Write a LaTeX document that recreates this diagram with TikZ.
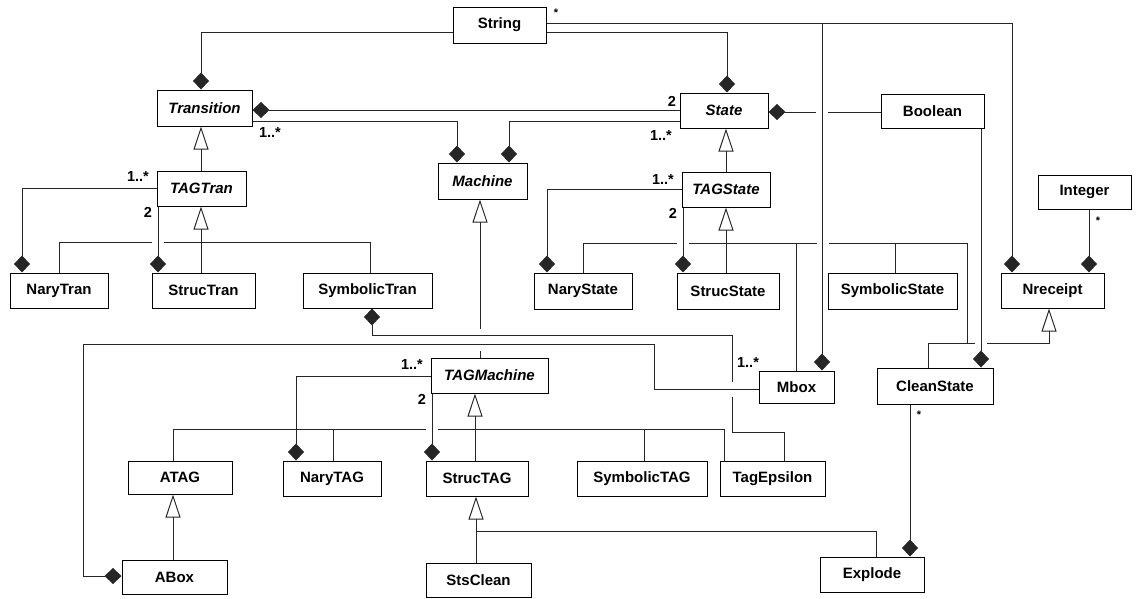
\documentclass[tikz,border=0pt]{standalone}
\usepackage{fontspec}
\setmainfont{Liberation Sans}
\usetikzlibrary{arrows.meta}
\begin{document}
\begin{tikzpicture}[x=1pt,y=-1pt,
  cls/.style={draw, line width=1pt, fill=white, inner sep=0pt, font=\fontsize{15}{18}\selectfont\bfseries},
  abs/.style={cls, font=\fontsize{15}{18}\selectfont\bfseries\itshape},
  ln/.style={line width=1pt, draw=black!85},
  comp/.style={ln, -{Diamond[length=17pt,width=16pt]}},
  gen/.style={ln, -{Triangle[open,length=23pt,width=15pt]}},
  mult/.style={font=\fontsize{14.5}{17}\selectfont\bfseries, inner sep=0pt},
  star/.style={font=\fontsize{11}{13}\selectfont\bfseries, inner sep=0pt}]
\useasboundingbox (0,0) rectangle (1138,598);

% ---- classes ----
\node[cls, minimum width=93pt, minimum height=36pt] (String) at (499.5,25) {String};
\node[abs, minimum width=95pt, minimum height=36pt] (Transition) at (204.5,108) {Transition};
\node[abs, minimum width=88pt, minimum height=35pt] (State) at (724,110.5) {State};
\node[cls, minimum width=103pt, minimum height=34pt] (Boolean) at (932.5,111) {Boolean};
\node[abs, minimum width=89pt, minimum height=36pt] (Machine) at (482.5,181) {Machine};
\node[abs, minimum width=89pt, minimum height=35pt] (TAGTran) at (201.5,188.5) {TAGTran};
\node[abs, minimum width=88pt, minimum height=35pt] (TAGState) at (726,189.5) {TAGState};
\node[cls, minimum width=93pt, minimum height=34pt] (Integer) at (1084.5,192) {Integer};
\node[cls, minimum width=98pt, minimum height=35pt] (NaryTran) at (59,290.5) {NaryTran};
\node[cls, minimum width=103pt, minimum height=35pt] (StrucTran) at (203.5,290.5) {StrucTran};
\node[cls, minimum width=129pt, minimum height=35pt] (SymbolicTran) at (367.5,290.5) {SymbolicTran};
\node[cls, minimum width=98pt, minimum height=36pt] (NaryState) at (583,291) {NaryState};
\node[cls, minimum width=102pt, minimum height=36pt] (StrucState) at (728,291) {StrucState};
\node[cls, minimum width=129pt, minimum height=36pt] (SymbolicState) at (892.5,291) {SymbolicState};
\node[cls, minimum width=103pt, minimum height=35pt] (Nreceipt) at (1052.5,290.5) {Nreceipt};
\node[abs, minimum width=117pt, minimum height=35pt] (TAGMachine) at (489.5,375.5) {TAGMachine};
\node[cls, minimum width=75pt, minimum height=32pt] (Mbox) at (796.5,387) {Mbox};
\node[cls, minimum width=116pt, minimum height=36pt] (CleanState) at (935,386) {CleanState};
\node[cls, minimum width=104pt, minimum height=33pt] (ATAG) at (180,477.5) {ATAG};
\node[cls, minimum width=98pt, minimum height=35pt] (NaryTAG) at (332,478.5) {NaryTAG};
\node[cls, minimum width=102pt, minimum height=35pt] (StrucTAG) at (477,478.5) {StrucTAG};
\node[cls, minimum width=130pt, minimum height=35pt] (SymbolicTAG) at (642,478.5) {SymbolicTAG};
\node[cls, minimum width=105pt, minimum height=35pt] (TagEpsilon) at (772.5,478.5) {TagEpsilon};
\node[cls, minimum width=105pt, minimum height=34pt] (ABox) at (174.5,577) {ABox};
\node[cls, minimum width=105pt, minimum height=34pt] (StsClean) at (478.5,580) {StsClean};
\node[cls, minimum width=104pt, minimum height=35pt] (Explode) at (872,574.5) {Explode};

% ---- String compositions ----
\draw[comp] (String.west |- 0,32) -| (201,0 |- Transition.north);
\draw[comp] (String.east |- 0,32) -| (727,0 |- State.north);
\draw[comp] (String.east |- 0,23) -| (1012,0 |- Nreceipt.north);
\draw[comp] (822,23) -- (822,0 |- Mbox.north);
\node[star] at (556,13) {*};

% ---- Transition / State / Machine ----
\draw[comp] (State.west |- 0,110) -- (Transition.east |- 0,110);
\node[mult] at (672,101) {2};
\draw[comp] (Transition.east |- 0,121) -| (457,0 |- Machine.north);
\draw[comp] (State.west |- 0,121) -| (509,0 |- Machine.north);
\node[mult] at (270,133) {1..*};
\node[mult] at (661,136) {1..*};

% ---- Boolean ----
\draw[ln] (Boolean.west |- 0,112) -- (828,112);
\draw[comp] (816,112) -- (State.east |- 0,112);
\draw[comp] (981,0 |- Boolean.south) -- (981,0 |- CleanState.north);

% ---- TAGTran ----
\draw[gen] (201,0 |- TAGTran.north) -- (201,0 |- Transition.south);
\draw[comp] (TAGTran.west |- 0,188) -| (22,0 |- NaryTran.north);
\node[mult] at (138,177) {1..*};
\draw[comp] (158,0 |- TAGTran.south) -- (158,0 |- StrucTran.north);
\node[mult] at (148,212) {2};
\draw[gen] (201,0 |- StrucTran.north) -- (201,0 |- TAGTran.south);
\draw[ln] (59,0 |- NaryTran.north) |- (152,242);
\draw[ln] (164,242) -| (370,0 |- SymbolicTran.north);

% ---- TAGState ----
\draw[gen] (726,0 |- TAGState.north) -- (726,0 |- State.south);
\draw[comp] (TAGState.west |- 0,189) -| (547,0 |- NaryState.north);
\node[mult] at (663,180) {1..*};
\draw[comp] (683,0 |- TAGState.south) -- (683,0 |- StrucState.north);
\node[mult] at (673,213) {2};
\draw[gen] (726,0 |- StrucState.north) -- (726,0 |- TAGState.south);
\draw[ln] (583,0 |- NaryState.north) |- (677,243);
\draw[ln] (689,243) -- (817,243);
\draw[ln] (829,243) -- (967,243) -- (967,343);
\draw[ln] (895,243) -- (895,0 |- SymbolicState.north);
\draw[ln] (796,243) -- (796,0 |- Mbox.north);
\draw[ln] (928,0 |- CleanState.north) |- (975,343);
\draw[gen] (987,343) -| (1049,0 |- Nreceipt.south);

% ---- Integer ----
\draw[comp] (1089,0 |- Integer.south) -- (1089,0 |- Nreceipt.north);
\node[star] at (1098,221) {*};

% ---- Machine generalization ----
\draw[ln] (480,0 |- TAGMachine.north) -- (480,351);
\draw[gen] (480,329) -- (480,0 |- Machine.south);

% ---- SymbolicTran -- TagEpsilon ----
\draw[ln] (784,0 |- TagEpsilon.north) |- (732,432) -- (732,397);
\draw[comp] (732,382) |- (372,335) -- (372,0 |- SymbolicTran.south);

% ---- ABox -- Mbox ----
\draw[comp] (Mbox.west |- 0,389) -| (654,344) -| (83,576) -- (ABox.west |- 0,576);
\node[mult] at (748,363) {1..*};

% ---- TAGMachine ----
\draw[comp] (TAGMachine.west |- 0,376) -| (296,0 |- NaryTAG.north);
\node[mult] at (412,365) {1..*};
\draw[comp] (432,0 |- TAGMachine.south) -- (432,0 |- StrucTAG.north);
\node[mult] at (422,399) {2};
\draw[gen] (475,0 |- StrucTAG.north) -- (475,0 |- TAGMachine.south);
\draw[ln] (173,0 |- ATAG.north) |- (426,429);
\draw[ln] (438,429) -| (724,0 |- TagEpsilon.north);
\draw[ln] (333,429) -- (333,0 |- NaryTAG.north);
\draw[ln] (644,429) -- (644,0 |- SymbolicTAG.north);

% ---- lower ----
\draw[gen] (173,0 |- ABox.north) -- (173,0 |- ATAG.south);
\draw[gen] (476,0 |- StsClean.north) -- (476,0 |- StrucTAG.south);
\draw[ln] (876,0 |- Explode.north) |- (476,531);
\draw[comp] (910,0 |- CleanState.south) -- (910,0 |- Explode.north);
\node[star] at (919,415) {*};
\end{tikzpicture}
\end{document}
